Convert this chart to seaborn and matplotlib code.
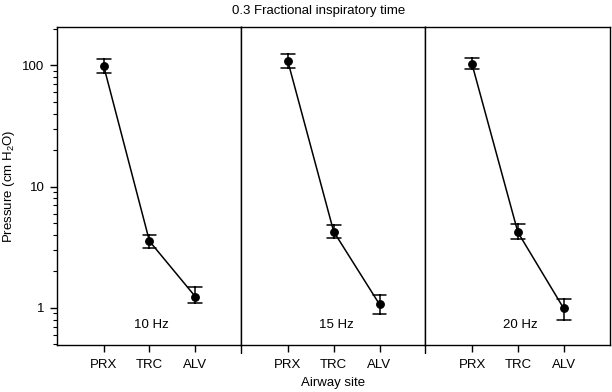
import matplotlib
matplotlib.use("Agg")
import matplotlib.pyplot as plt
import numpy as np
import pandas as pd
import seaborn as sns
from matplotlib.ticker import LogLocator, NullFormatter

# data (pressure, cm H2O)
sites = ["PRX", "TRC", "ALV"]
freqs = ["10 Hz", "15 Hz", "20 Hz"]
p_mean = {"10 Hz": [99.0, 3.55, 1.24],
          "15 Hz": [108.0, 4.26, 1.07],
          "20 Hz": [102.0, 4.20, 0.99]}
p_low = {"10 Hz": [87.0, 3.13, 1.09],
         "15 Hz": [95.5, 3.75, 0.89],
         "20 Hz": [94.0, 3.71, 0.80]}
p_high = {"10 Hz": [112.0, 4.02, 1.48],
          "15 Hz": [123.0, 4.83, 1.28],
          "20 Hz": [115.5, 4.90, 1.18]}

sns.set_theme(style="ticks")
plt.rcParams["font.family"] = ["Liberation Sans", "DejaVu Sans"]
plt.rcParams["mathtext.fontset"] = "custom"
plt.rcParams["mathtext.rm"] = "Liberation Sans"
plt.rcParams["mathtext.default"] = "regular"
for key in ("text.color", "axes.labelcolor", "xtick.color", "ytick.color"):
    plt.rcParams[key] = "black"

FS = 9.5

# long table: low / mean / high rows so median = mean and min/max = error bar
rows = []
for f in freqs:
    for i, s in enumerate(sites):
        for v in (p_low[f][i], p_mean[f][i], p_high[f][i]):
            rows.append({"freq": f, "site": s, "p": v})
df = pd.DataFrame(rows)

fig, axes = plt.subplots(1, 3, figsize=(6.12, 3.92), dpi=100, sharey=True)
fig.subplots_adjust(left=0.093, right=0.996, top=0.931, bottom=0.120, wspace=0)

for k, (ax, f) in enumerate(zip(axes, freqs)):
    sub = df[df["freq"] == f]
    sns.pointplot(data=sub, x="site", y="p", order=sites, ax=ax,
                  estimator="median", errorbar=lambda v: (v.min(), v.max()),
                  color="black", markersize=5.5, linewidth=1.1, capsize=0.3,
                  err_kws={"linewidth": 1.1}, log_scale=(False, True))
    ax.set_yscale("log")
    ax.set_ylim(0.495, 207)
    ax.set_xlim(-1.02, 3.0)
    ax.set_xlabel("")
    ax.set_ylabel("")
    for sp in ax.spines.values():
        sp.set_visible(True)
        sp.set_linewidth(1.0)
        sp.set_color("black")
    ax.tick_params(axis="x", direction="out", length=5, width=1.0,
                   labelsize=FS, colors="black", pad=5)
    ax.text(1.05, 0.063, f, transform=ax.get_xaxis_transform(),
            ha="center", va="center", fontsize=FS)
    if k > 0:
        ax.tick_params(axis="y", which="both", left=False, labelleft=False)
        ax.plot([0, 0], [-0.025, 0], transform=ax.transAxes, color="black",
                lw=1.0, clip_on=False)

ax0 = axes[0]
ax0.yaxis.set_minor_locator(LogLocator(base=10, subs=np.arange(2, 10), numticks=20))
ax0.set_yticks([1, 10, 100])
ax0.set_yticklabels(["1", "10", "100"])
ax0.yaxis.set_minor_formatter(NullFormatter())
ax0.tick_params(axis="y", which="major", direction="out", length=5, width=1.0,
                labelsize=FS, colors="black", pad=4)
ax0.tick_params(axis="y", which="minor", direction="out", length=3, width=0.8)
ax0.set_ylim(0.495, 207)

fig.text(0.015, 0.525, "Pressure (cm H$_2$O)", rotation=90, ha="center",
         va="center", fontsize=FS)
fig.text(0.544, 0.023, "Airway site", ha="center", va="center", fontsize=FS)
fig.text(0.52, 0.972, "0.3 Fractional inspiratory time", ha="center",
         va="center", fontsize=FS)

fig.savefig("out.png", dpi=100)
